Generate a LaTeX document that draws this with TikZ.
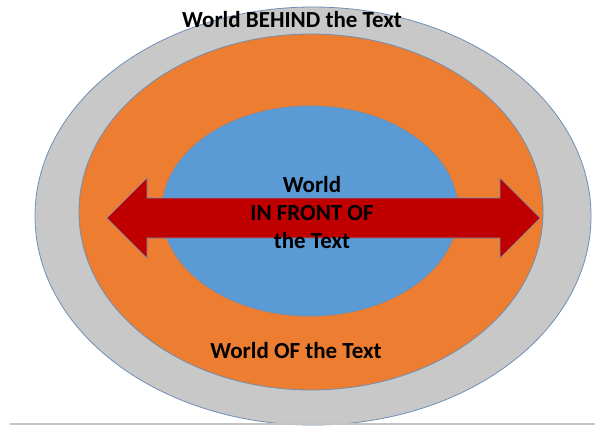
\documentclass[tikz,border=0pt]{standalone}
\usepackage{fontspec}
\setmainfont{Carlito}
\usetikzlibrary{shapes.geometric}
\definecolor{outergray}{HTML}{C8C8C8}
\definecolor{orangefill}{HTML}{ED7D31}
\definecolor{bluefill}{HTML}{5B9BD5}
\definecolor{arrowred}{HTML}{C00000}
\definecolor{edgeblue}{HTML}{6F8FB5}
\definecolor{basegray}{HTML}{C4C4C4}
\tikzset{
  ring/.style={ellipse, draw=edgeblue, line width=0.8pt, inner sep=0pt},
  label/.style={font=\bfseries\fontsize{23}{28}\selectfont, text=black, align=center, inner sep=0pt}
}
\begin{document}
\begin{tikzpicture}[x=1pt,y=-1pt]
\useasboundingbox (0,0) rectangle (595,426);
\fill[white] (0,0) rectangle (595,426);
\node[ring, fill=outergray, minimum width=556pt, minimum height=418pt] (outer) at (313,216) {};
\node[ring, fill=orangefill, minimum width=464pt, minimum height=356pt] (mid) at (311,212) {};
\node[ring, fill=bluefill, minimum width=296pt, minimum height=210pt] (inner) at (310,211) {};
\draw[draw=edgeblue, line width=0.6pt, fill=arrowred, line join=miter]
  (107,218) -- (147,178) -- (147,198) -- (500,198) -- (500,178) -- (540,218)
  -- (500,258) -- (500,238) -- (147,238) -- (147,258) -- cycle;
\node[label] (behind) at (292,20) {World BEHIND the Text};
\node[label] (front) at (312,213) {World\\IN FRONT OF\\the Text};
\node[label] (of) at (296,351) {World OF the Text};
\draw[basegray, line width=1.5pt] (10,424) -- (595,424);
\end{tikzpicture}
\end{document}
